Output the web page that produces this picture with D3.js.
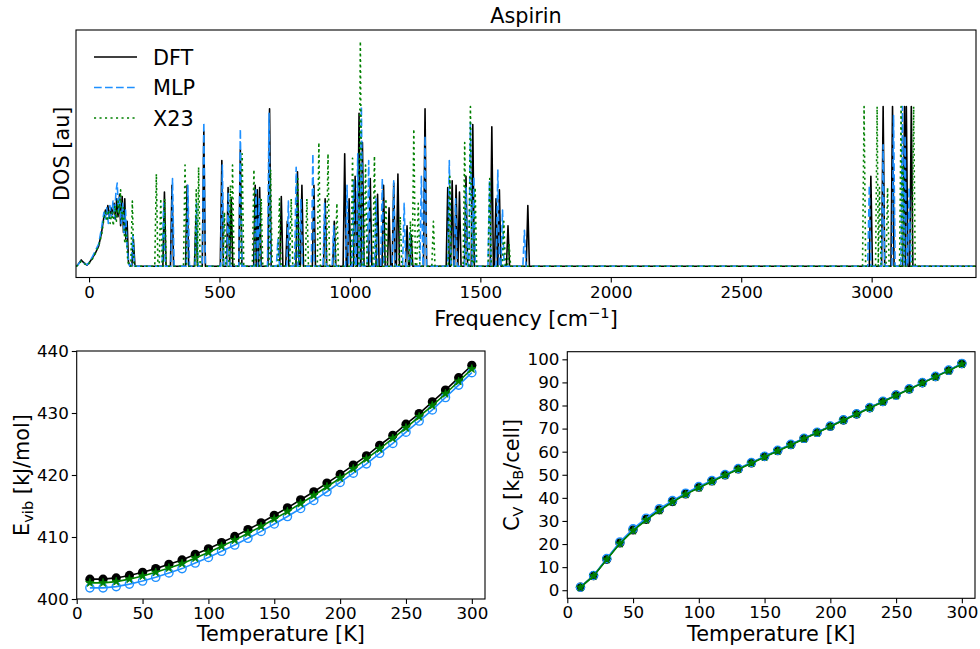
<!DOCTYPE html>
<html>
<head>
<meta charset="utf-8">
<script src="https://cdn.jsdelivr.net/npm/d3@7/dist/d3.min.js"></script>
<style>
  body { margin: 0; background: #fff; }
  svg { display: block; }
  text { font-family: "DejaVu Sans", sans-serif; fill: #000; }
</style>
</head>
<body>
<svg id="chart" width="980" height="649"></svg>
<script>
// ---- Phonon density of states (frequency in cm^-1, DOS in arbitrary units) ----
// Lattice band below ~180 cm^-1, given point by point
const dftBand = [[-50,0],[-44,0.5],[-30,2.8],[-22,1.8],[-8,0.5],[2,1.8],[12,3.5],[25,6],[37,9],[48,15],[57,22],[63,25],[68,23],[72,27],[78,22],[84,26],[90,23],[96,28],[101,21],[106,30],[111,22],[117,32],[121,18],[127,31],[132,15],[137,30],[141,12],[146,20],[151,2],[157,0]];
const mlpBand = [[-50,0],[-44,0.4],[-30,2.5],[-22,1.6],[-8,0.6],[2,2],[12,4],[25,7],[37,10],[48,17],[57,24],[62,21],[68,26],[74,19],[80,27],[86,22],[92,29],[98,21],[103,33],[108,37],[113,24],[118,31],[123,19],[129,28],[134,14],[140,25],[146,8],[152,1],[158,0]];
const x23Band = [[-50,0],[-44,0.3],[-30,2.2],[-22,1.4],[-8,0.4],[2,1.5],[12,3],[25,6],[37,9],[48,14],[57,21],[63,24],[69,20],[75,25],[81,19],[87,24],[93,18],[99,27],[105,20],[111,29],[116,23],[121,34],[126,20],[132,26],[137,10],[143,16],[148,3],[153,0]];

// Molecular modes: [frequency, peak height]
const dftPeaks = [[170,12],[289,33],[318,36],[376,36],[410,22],[440,60],[509,47],[533,35],[545,30],[580,52],[637,36],[645,34],[654,35],[692,70],[737,31],[760,20],[799,42],[816,36],[862,36],[905,30],[940,20],[980,50],[997,30],[1020,40],[1035,68],[1048,55],[1078,39],[1106,32],[1129,36],[1150,26],[1168,37],[1184,41],[1219,18],[1235,14],[1288,70],[1375,35],[1392,38],[1407,36],[1420,33],[1445,40],[1471,63],[1544,62],[1560,30],[1573,34],[1606,18],[1682,27],[2997,40],[3044,71],[3080,71],[3126,71],[3133,71],[3152,71]];
const mlpPeaks = [[168,14],[286,28],[320,39],[379,36],[412,28],[440,64],[511,45],[534,33],[580,61],[640,34],[652,30],[690,68],[724,12],[764,29],[794,44],[812,30],[858,50],[903,28],[938,18],[989,36],[1014,38],[1030,50],[1044,71],[1072,47],[1100,30],[1124,39],[1168,38],[1208,28],[1230,15],[1274,40],[1288,58],[1381,47],[1405,30],[1445,35],[1462,64],[1475,40],[1535,38],[1567,43],[1585,25],[1669,16],[2991,36],[3044,54],[3084,67],[3118,71],[3128,58],[3144,35]];
const x23Peaks = [[166,29],[258,41],[275,30],[290,30],[368,45],[411,34],[420,44],[519,24],[542,36],[550,45],[587,50],[632,43],[660,30],[696,43],[730,30],[775,30],[800,40],[835,30],[881,55],[916,50],[950,28],[1010,48],[1040,100],[1060,45],[1094,49],[1138,30],[1193,22],[1232,20],[1245,61],[1262,28],[1320,20],[1383,40],[1440,55],[1462,71],[1480,35],[1536,39],[1590,20],[1610,10],[2971,71],[3021,71],[3030,35],[3061,35],[3113,71],[3120,45],[3161,71]];

const freqTicks = [0, 500, 1000, 1500, 2000, 2500, 3000];

// ---- Thermodynamics vs temperature ----
const temps = [10,20,30,40,50,60,70,80,90,100,110,120,130,140,150,160,170,180,190,200,210,220,230,240,250,260,270,280,290,300];
const evibDFT = [403.2,403.2,403.4,403.8,404.3,404.9,405.6,406.3,407.2,408.1,409.1,410.1,411.2,412.3,413.5,414.7,416.0,417.3,418.7,420.1,421.6,423.1,424.8,426.4,428.2,429.9,431.8,433.7,435.7,437.7];
const evibMLP = [401.8,401.8,402.0,402.4,402.9,403.5,404.2,404.9,405.8,406.7,407.7,408.7,409.8,410.9,412.1,413.3,414.6,415.9,417.3,418.8,420.3,421.8,423.5,425.1,426.9,428.7,430.5,432.5,434.5,436.5];
const evibX23 = [402.6,402.6,402.8,403.2,403.7,404.3,405.0,405.7,406.6,407.5,408.5,409.5,410.6,411.7,412.9,414.1,415.4,416.7,418.1,419.5,421.0,422.6,424.2,425.9,427.6,429.4,431.2,433.1,435.1,437.1];
const cvDFT = [1.3,6.3,13.4,20.5,26.1,30.7,34.8,38.4,41.7,44.6,47.3,49.9,52.5,55.1,57.9,60.4,63.0,65.7,68.3,71.0,73.7,76.3,79.0,81.7,84.5,87.1,89.8,92.5,95.2,98.1];
const cvMLP = [1.3,6.4,13.7,20.9,26.6,31.2,35.3,38.8,42.0,44.9,47.5,50.1,52.7,55.3,58.0,60.6,63.2,65.8,68.4,71.1,73.8,76.4,79.1,81.8,84.5,87.2,89.9,92.6,95.3,98.2];
const cvX23 = [1.2,6.2,13.3,20.2,25.8,30.4,34.5,38.2,41.5,44.4,47.1,49.8,52.4,55.0,57.7,60.3,62.9,65.6,68.2,70.9,73.6,76.2,78.9,81.6,84.3,87.0,89.7,92.4,95.1,97.9];

const tempTicks = [0, 50, 100, 150, 200, 250, 300];
const evibTicks = [400, 410, 420, 430, 440];
const cvTicks = [0,10,20,30,40,50,60,70,80,90,100];

const colors = { DFT: "#000000", MLP: "#1e90ff", X23: "#008000" };

const svg = d3.select("#chart");
const TICK = 4.9, FS_TICK = 16.7, FS_LAB = 20.8, FS_SUB = 14.6;

// Turn a band + list of mode peaks into a spectrum polyline
const HW = 6;
function spectrum(band, peaks, fmax) {
  const pts = band.slice();
  const s = peaks.slice().sort((a, b) => a[0] - b[0]);
  s.forEach(([f, h], i) => {
    const p = s[i - 1], n = s[i + 1];
    const lo = p && f - p[0] < 2 * HW ? (p[0] + f) / 2 : f - HW;
    const hi = n && n[0] - f < 2 * HW ? (n[0] + f) / 2 : f + HW;
    pts.push([lo, 0], [f, h], [hi, 0]);
  });
  pts.push([fmax, 0]);
  return pts;
}

function frame(g, x0, y0, w, h) {
  g.append("rect").attr("x", x0).attr("y", y0).attr("width", w).attr("height", h)
    .attr("fill", "none").attr("stroke", "#000").attr("stroke-width", 1.1);
}

function styleAxis(sel) {
  sel.select(".domain").remove();
  sel.selectAll(".tick line").attr("stroke", "#000").attr("stroke-width", 1.1);
  sel.selectAll(".tick text").attr("font-size", FS_TICK).attr("font-family", "DejaVu Sans").attr("fill", "#000");
}

// ================= Top panel: DOS =================
{
  const L = 76, R = 976, T = 30, B = 277.5;
  const x = d3.scaleLinear().domain([-50, 3400]).range([L, R]);
  const y = d3.scaleLinear().domain([-5, 105]).range([B, T]);
  const g = svg.append("g");
  g.append("clipPath").attr("id", "clipTop").append("rect")
    .attr("x", L).attr("y", T).attr("width", R - L).attr("height", B - T);
  const line = d3.line().x(d => x(d[0])).y(d => y(d[1]));
  const series = [
    { name: "DFT", data: spectrum(dftBand, dftPeaks, 3400), dash: null },
    { name: "MLP", data: spectrum(mlpBand, mlpPeaks, 3400), dash: "7.7,3.3" },
    { name: "X23", data: spectrum(x23Band, x23Peaks, 3400), dash: "2.1,3.4" }
  ];
  const lg = g.append("g").attr("clip-path", "url(#clipTop)");
  series.forEach(s => {
    lg.append("path").attr("d", line(s.data)).attr("fill", "none")
      .attr("stroke", colors[s.name]).attr("stroke-width", 1.6)
      .attr("stroke-linejoin", "round")
      .attr("stroke-dasharray", s.dash);
  });
  frame(g, L, T, R - L, B - T);
  const ax = g.append("g").attr("transform", `translate(0,${B})`)
    .call(d3.axisBottom(x).tickValues(freqTicks).tickFormat(d3.format("d")).tickSizeOuter(0).tickSize(TICK).tickPadding(4));
  styleAxis(ax);
  // title and axis labels
  g.append("text").attr("x", (L + R) / 2).attr("y", 23).attr("text-anchor", "middle")
    .attr("font-size", FS_LAB).text("Aspirin");
  const xl = g.append("text").attr("x", (L + R) / 2).attr("y", 326).attr("text-anchor", "middle")
    .attr("font-size", FS_LAB);
  xl.append("tspan").text("Frequency [cm");
  xl.append("tspan").attr("dy", -8).attr("font-size", FS_SUB).text("\u22121");
  xl.append("tspan").attr("dy", 8).text("]");
  g.append("text").attr("transform", `translate(69,${(T + B) / 2}) rotate(-90)`)
    .attr("text-anchor", "middle").attr("font-size", FS_LAB).text("DOS [au]");
  // legend
  const legY = [57, 87.5, 118];
  series.forEach((s, i) => {
    g.append("line").attr("x1", 94).attr("x2", 137).attr("y1", legY[i]).attr("y2", legY[i])
      .attr("stroke", colors[s.name]).attr("stroke-width", 1.6).attr("stroke-dasharray", s.dash);
    g.append("text").attr("x", 153).attr("y", legY[i] + 7.5).attr("font-size", FS_LAB).text(s.name);
  });
}

// ================= Bottom panels =================
function tempPanel(opts) {
  const { L, R, T, B, yDomain, yTicks, sets } = opts;
  const x = d3.scaleLinear().domain([0, 310]).range([L, R]);
  const y = d3.scaleLinear().domain(yDomain).range([B, T]);
  const g = svg.append("g");
  const line = d3.line().x(d => x(d[0])).y(d => y(d[1]));
  const star = d3.symbol().type(d3.symbolStar).size(22);
  sets.forEach(s => {
    const pts = temps.map((t, i) => [t, s.values[i]]);
    g.append("path").attr("d", line(pts)).attr("fill", "none")
      .attr("stroke", colors[s.name]).attr("stroke-width", 1.6);
    pts.forEach(p => {
      if (s.marker === "star") {
        g.append("path").attr("d", star()).attr("transform", `translate(${x(p[0])},${y(p[1])})`)
          .attr("fill", colors[s.name]).attr("stroke", colors[s.name]).attr("stroke-width", 0.8);
      } else if (s.marker === "open") {
        g.append("circle").attr("cx", x(p[0])).attr("cy", y(p[1])).attr("r", 4.1)
          .attr("fill", "none").attr("stroke", colors[s.name]).attr("stroke-width", 1.4);
      } else {
        g.append("circle").attr("cx", x(p[0])).attr("cy", y(p[1])).attr("r", 4.6)
          .attr("fill", colors[s.name]);
      }
    });
  });
  frame(g, L, T, R - L, B - T);
  const ax = g.append("g").attr("transform", `translate(0,${B})`)
    .call(d3.axisBottom(x).tickValues(tempTicks).tickSize(TICK).tickSizeOuter(0).tickPadding(3));
  styleAxis(ax);
  const ay = g.append("g").attr("transform", `translate(${L},0)`)
    .call(d3.axisLeft(y).tickValues(yTicks).tickSize(TICK).tickSizeOuter(0).tickPadding(3));
  styleAxis(ay);
  g.append("text").attr("x", (L + R) / 2).attr("y", 641).attr("text-anchor", "middle")
    .attr("font-size", FS_LAB).text("Temperature [K]");
  return g;
}

{
  const g = tempPanel({
    L: 76.7, R: 485, T: 351, B: 599, yDomain: [400, 440], yTicks: evibTicks,
    sets: [
      { name: "DFT", values: evibDFT, marker: "filled" },
      { name: "MLP", values: evibMLP, marker: "open" },
      { name: "X23", values: evibX23, marker: "star" }
    ]
  });
  const t = g.append("text").attr("transform", `translate(29,475) rotate(-90)`)
    .attr("text-anchor", "middle").attr("font-size", FS_LAB);
  t.append("tspan").text("E");
  t.append("tspan").attr("dy", 4).attr("font-size", FS_SUB).text("vib");
  t.append("tspan").attr("dy", -4).text(" [kJ/mol]");
}

{
  const g = tempPanel({
    L: 567.3, R: 975, T: 351.7, B: 598.3, yDomain: [-3.5, 103.3], yTicks: cvTicks,
    sets: [
      { name: "DFT", values: cvDFT, marker: "filled" },
      { name: "MLP", values: cvMLP, marker: "open" },
      { name: "X23", values: cvX23, marker: "star" }
    ]
  });
  const t = g.append("text").attr("transform", `translate(519,475) rotate(-90)`)
    .attr("text-anchor", "middle").attr("font-size", FS_LAB);
  t.append("tspan").text("C");
  t.append("tspan").attr("dy", 4).attr("font-size", FS_SUB).text("V");
  t.append("tspan").attr("dy", -4).text(" [k");
  t.append("tspan").attr("dy", 4).attr("font-size", FS_SUB).text("B");
  t.append("tspan").attr("dy", -4).text("/cell]");
}
</script>
</body>
</html>
